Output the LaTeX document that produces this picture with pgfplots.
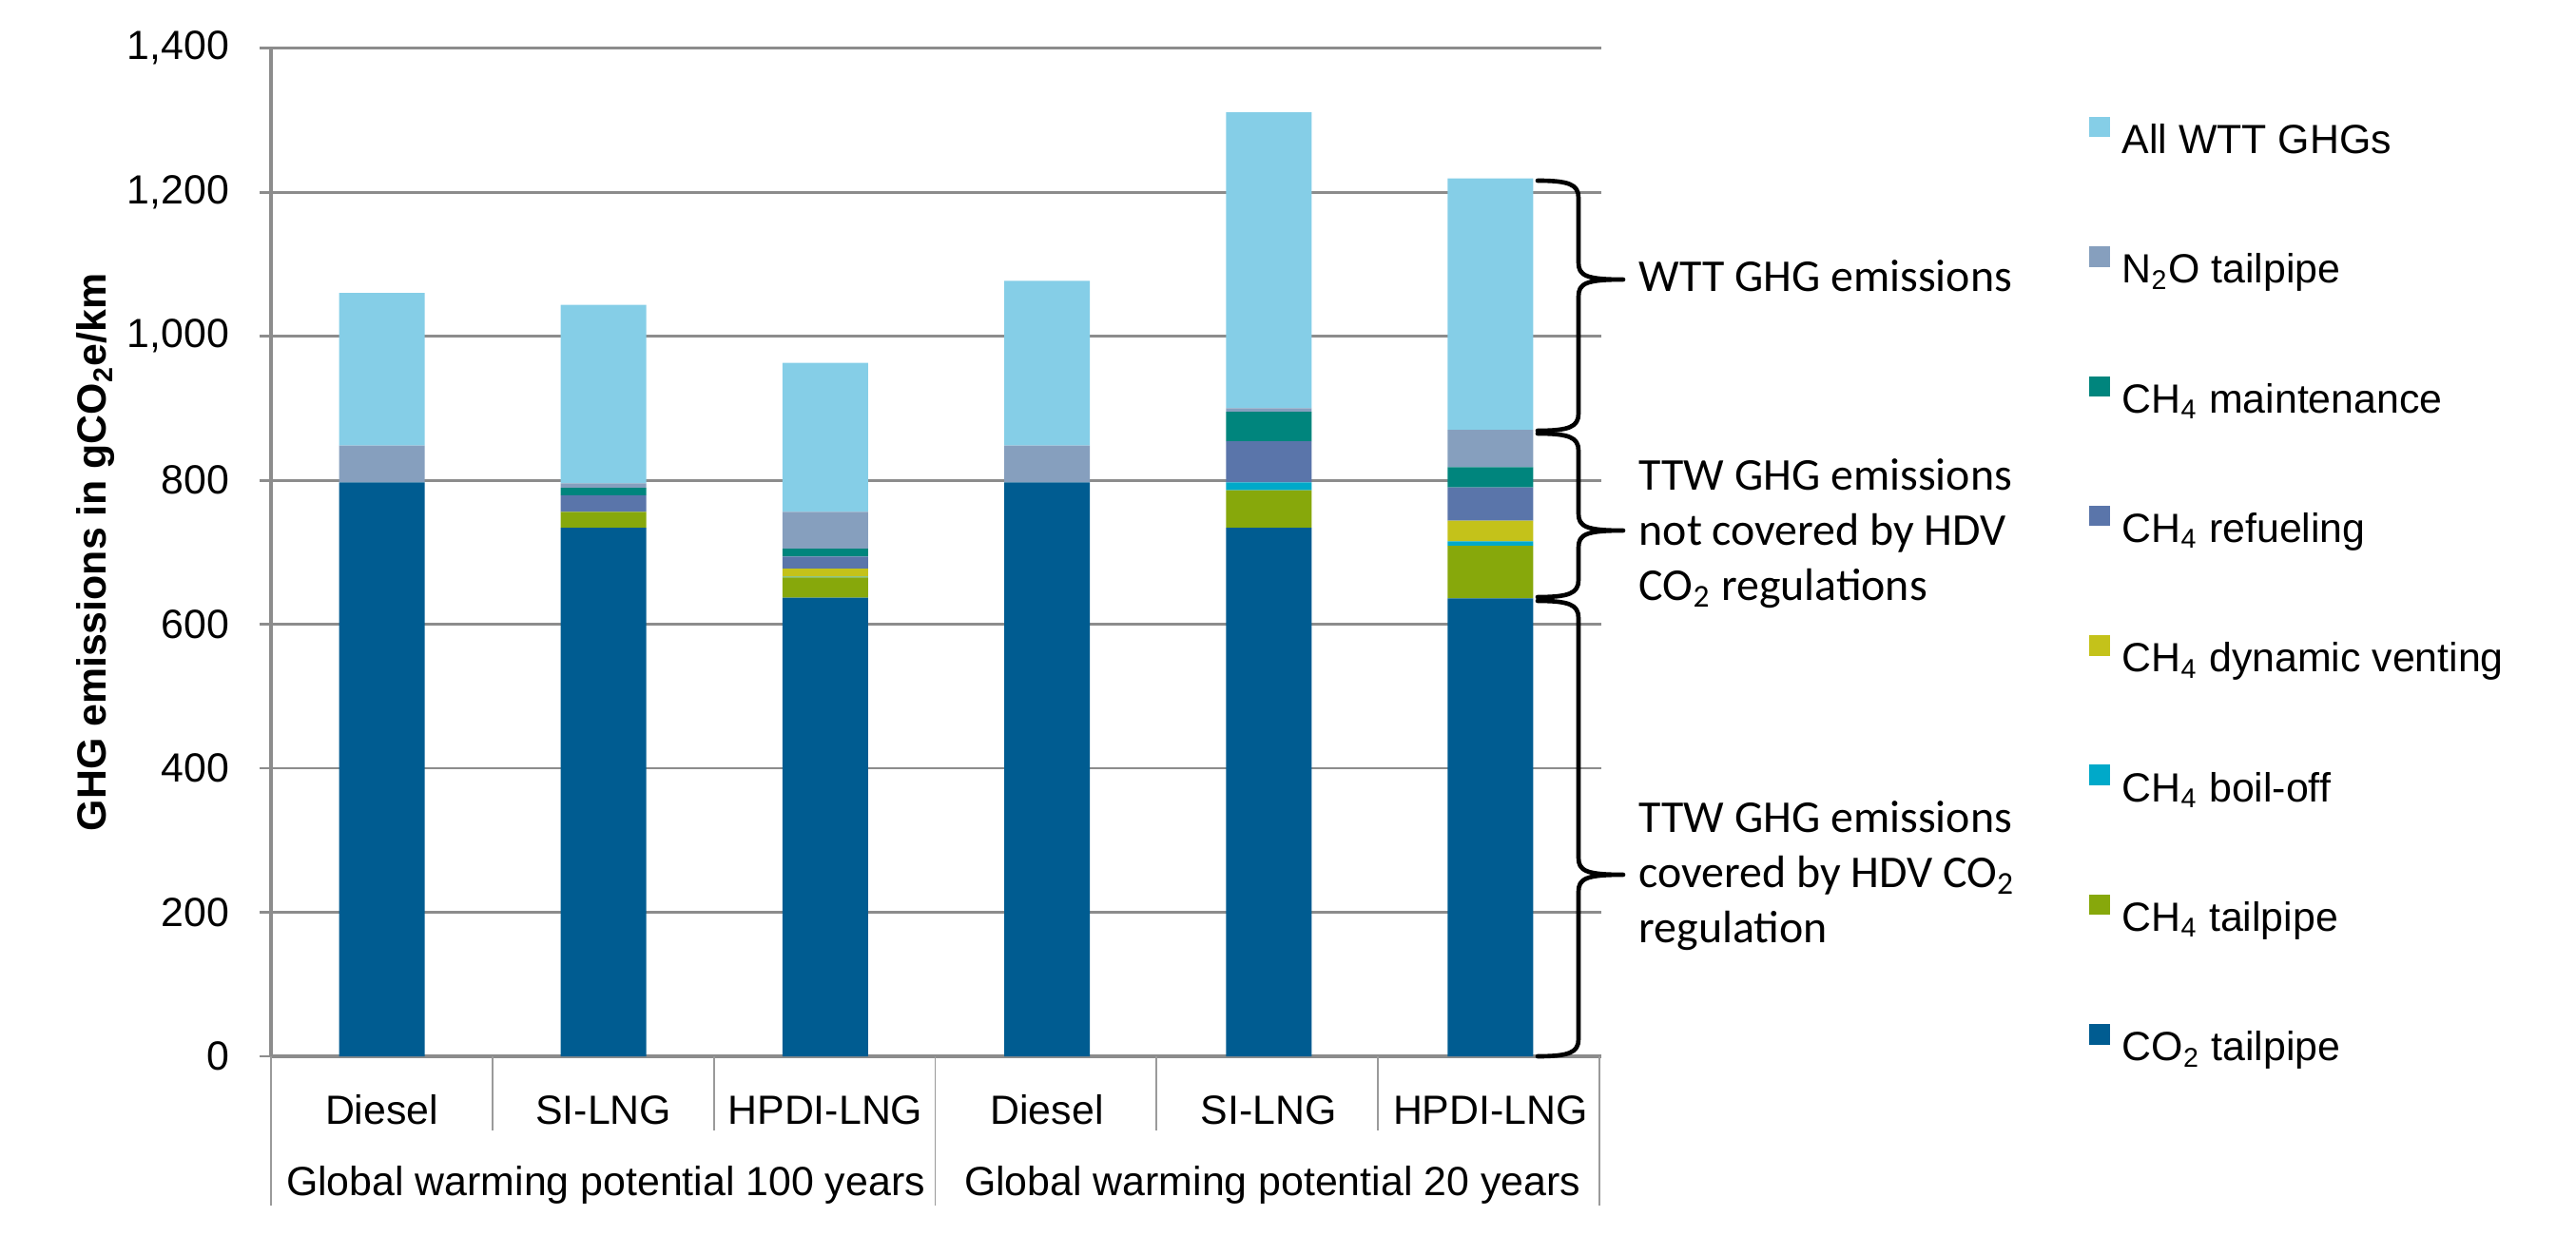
\documentclass[border=0pt]{standalone}
\usepackage{fontspec}
\setmainfont{Liberation Sans}
\newfontfamily\calfont{Carlito}
\usepackage{pgfplots}
\usepackage{pgfplotstable}
\pgfplotsset{compat=1.18}
\definecolor{cWTT}{HTML}{85CEE7}
\definecolor{cNTWO}{HTML}{869FBE}
\definecolor{cMAINT}{HTML}{00857D}
\definecolor{cREF}{HTML}{5A75AA}
\definecolor{cVENT}{HTML}{C4C21A}
\definecolor{cBOIL}{HTML}{00A9C9}
\definecolor{cTAIL}{HTML}{87A80B}
\definecolor{cCO}{HTML}{005C91}
\definecolor{gridgray}{HTML}{8C8C8C}
\definecolor{sepgray}{HTML}{9A9A9A}

\pgfplotstableread{
x co2 tail boil vent refuel maint ntwo wtt
0 797 0 0 0 0 0 51 212
1 734 22 0 0 23 10.5 6 248
2 637 28 1 11 17 11 51 207
3 797 0 0 0 0 0 51 229
4 734 52 11 0 57 41 5 411
5 636 73 6 29 46 28 52 349
}\datatable

\newcommand\mybrace[3]{%
\draw[line width=1.3pt, line cap=round, line join=round]
 (1617,#1) .. controls (1650,#1) and (1660,#1+4) .. (1660,#1+18)
 -- (1660,#2-18) .. controls (1660,#2-4) and (1668,#2) .. (1707,#2)
 .. controls (1668,#2) and (1660,#2+4) .. (1660,#2+18)
 -- (1660,#3-18) .. controls (1660,#3-4) and (1650,#3) .. (1617,#3);}

\begin{document}
\begin{tikzpicture}
\path[use as bounding box] (0,0) rectangle (758.52pt,-364pt);
\begin{axis}[
  at={(79.8pt,-311.08pt)}, anchor=south west,
  scale only axis, width=391.72pt, height=296.9pt,
  ybar stacked, bar width=25.2pt,
  legend image code/.code={\fill[#1] (0pt,0.5pt) rectangle (6pt,6.5pt); \path (9.6pt,0pt);},
  xmin=-0.5, xmax=5.5, ymin=0, ymax=1400,
  xtick={0,...,5},
  xticklabels={Diesel,SI-LNG,HPDI-LNG,Diesel,SI-LNG,HPDI-LNG},
  xtick style={draw=none},
  xticklabel style={font=\fontsize{12}{14}\selectfont, anchor=base, inner sep=0pt, yshift=-16.5pt},
  ytick={0,200,...,1400},
  yticklabel style={font=\fontsize{12}{14}\selectfont, anchor=east, inner sep=0pt, xshift=-8.66pt},
  /pgf/number format/assume math mode=true,
  /pgf/number format/1000 sep={,},
  ymajorgrids, grid style={draw=gridgray, line width=0.8pt},
  axis x line*=bottom, axis y line*=left,
  axis line style={draw=gridgray, line width=0.85pt},
  ytick style={draw=gridgray, line width=0.8pt},
  tick align=outside, major tick length=3.4pt,
  ylabel={\bfseries GHG emissions in gCO\textsubscript{2}e/km},
  ylabel style={at={(axis description cs:-0.1316,0.5)}, anchor=center, font=\fontsize{12}{14}\selectfont},
  clip=false,
  reverse legend,
  legend style={at={(1.3670,0.9319)}, anchor=north west, draw=none, fill=none,
    inner sep=0pt, outer sep=0pt, row sep=27.37pt,
    nodes={inner sep=0pt, text height=8.6pt, text depth=0pt, font=\fontsize{12}{14}\selectfont},
    cells={anchor=west}},
]
\addplot[fill=cCO, draw=none] table[x=x,y=co2]{\datatable};
\addlegendentry{CO\textsubscript{2} tailpipe}
\addplot[fill=cTAIL, draw=none] table[x=x,y=tail]{\datatable};
\addlegendentry{CH\textsubscript{4} tailpipe}
\addplot[fill=cBOIL, draw=none] table[x=x,y=boil]{\datatable};
\addlegendentry{CH\textsubscript{4} boil-off}
\addplot[fill=cVENT, draw=none] table[x=x,y=vent]{\datatable};
\addlegendentry{CH\textsubscript{4} dynamic venting}
\addplot[fill=cREF, draw=none] table[x=x,y=refuel]{\datatable};
\addlegendentry{CH\textsubscript{4} refueling}
\addplot[fill=cMAINT, draw=none] table[x=x,y=maint]{\datatable};
\addlegendentry{CH\textsubscript{4} maintenance}
\addplot[fill=cNTWO, draw=none] table[x=x,y=ntwo]{\datatable};
\addlegendentry{N\textsubscript{2}O tailpipe}
\addplot[fill=cWTT, draw=none] table[x=x,y=wtt]{\datatable};
\addlegendentry{All WTT GHGs}
\end{axis}
\begin{scope}[x=0.28pt,y=-0.28pt]
\mybrace{190}{294}{453}
\mybrace{456}{558}{628}
\mybrace{632}{920}{1111}
\begin{scope}[every node/.style={font=\calfont\fontsize{13.4}{16}\selectfont, anchor=base west, inner sep=0pt}]
\node at (1723,306) {WTT GHG emissions};
\node at (1723,515) {TTW GHG emissions};
\node at (1723,573) {not covered by HDV};
\node at (1723,631) {CO\textsubscript{2} regulations};
\node at (1723,875) {TTW GHG emissions};
\node at (1723,933) {covered by HDV CO\textsubscript{2}};
\node at (1723,991) {regulation};
\end{scope}
\foreach \xx in {517.8,750.7,1216.3,1449.2} {\draw[sepgray, line width=0.55pt] (\xx,1111) -- (\xx,1189);}
\foreach \xx in {285,983.5,1682} {\draw[sepgray, line width=0.55pt] (\xx,1111) -- (\xx,1268);}
\node[anchor=base, inner sep=0pt, font=\fontsize{12}{14}\selectfont] at (637,1257) {Global warming potential 100 years};
\node[anchor=base, inner sep=0pt, font=\fontsize{12}{14}\selectfont] at (1338,1257) {Global warming potential 20 years};
\end{scope}
\end{tikzpicture}
\end{document}
